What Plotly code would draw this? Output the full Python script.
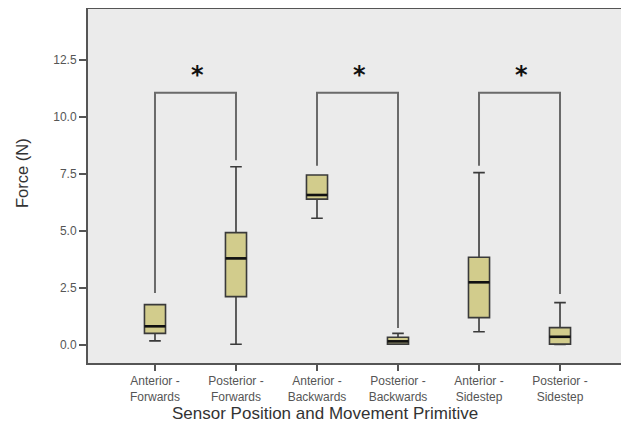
import plotly.graph_objects as go

categories = ["Anterior -<br>Forwards", "Posterior -<br>Forwards", "Anterior -<br>Backwards",
              "Posterior -<br>Backwards", "Anterior -<br>Sidestep", "Posterior -<br>Sidestep"]
lower_whisker = [0.18, 0.03, 5.56, 0.04, 0.58, 0.02]
q1 = [0.51, 2.12, 6.40, 0.04, 1.20, 0.04]
median = [0.82, 3.80, 6.58, 0.16, 2.75, 0.36]
q3 = [1.77, 4.93, 7.46, 0.34, 3.85, 0.76]
upper_whisker = [1.77, 7.82, 7.46, 0.51, 7.56, 1.86]

bracket_pairs = [(0, 1), (2, 3), (4, 5)]
bracket_left_start = [2.28, 7.86, 7.86]
bracket_right_start = [8.10, 0.75, 2.24]
bracket_top = [11.07, 11.07, 11.07]
star_y = [11.85, 11.85, 11.85]

y_ticks = [0, 2.5, 5.0, 7.5, 10.0, 12.5]

BOX_W = 0.26
xpos = list(range(len(categories)))

# page has an 8px body margin; size the figure so it fits the 629x423 window
W, H = 621, 415
ML, MR, MT, MB = 80, 2, 1, 60
PW = W - ML - MR
PH = H - MT - MB

fig = go.Figure()

fig.add_trace(go.Box(
    x=xpos,
    q1=q1, median=median, q3=q3,
    lowerfence=lower_whisker, upperfence=upper_whisker,
    fillcolor="#D2CC8C",
    line=dict(color="#3a3a3a", width=1.6),
    width=BOX_W,
    whiskerwidth=0.55,
    boxpoints=False,
    showlegend=False,
    hoverinfo="skip",
))

mx, my = [], []
for i, m in enumerate(median):
    mx += [i - BOX_W / 2, i + BOX_W / 2, None]
    my += [m, m, None]
fig.add_trace(go.Scatter(x=mx, y=my, mode="lines", line=dict(color="#111111", width=2.6),
                         showlegend=False, hoverinfo="skip"))

for k, (a, b) in enumerate(bracket_pairs):
    fig.add_trace(go.Scatter(
        x=[a, a, b, b],
        y=[bracket_left_start[k], bracket_top[k], bracket_top[k], bracket_right_start[k]],
        mode="lines",
        line=dict(color="#6a6a6a", width=2),
        showlegend=False,
        hoverinfo="skip",
    ))
    fig.add_annotation(
        x=(a + b) / 2 + 0.02, y=star_y[k], text="<b>*</b>", showarrow=False,
        font=dict(size=24, color="#111111", family="DejaVu Sans"), yanchor="middle",
    )

fig.add_annotation(xref="paper", x=(317 - ML) / PW, xanchor="center",
                   yref="paper", y=0, yanchor="middle", yshift=-50,
                   text="Sensor Position and Movement Primitive",
                   showarrow=False, font=dict(size=17, color="#333333"))
fig.add_annotation(xref="paper", x=0, xanchor="center", xshift=-66,
                   yref="paper", y=(PH + MT - 165) / PH, yanchor="middle",
                   text="Force (N)", textangle=-90, showarrow=False,
                   font=dict(size=16.5, color="#333333"))

fig.update_layout(
    width=W, height=H,
    margin=dict(l=ML, r=MR, t=MT, b=MB),
    paper_bgcolor="white",
    plot_bgcolor="#EBEBEB",
    font=dict(family="Liberation Sans, Arial, sans-serif", color="#444444"),
)

fig.update_xaxes(
    automargin=False,
    tickmode="array", tickvals=xpos, ticktext=categories,
    range=[-0.827, 5.827],
    showgrid=False, zeroline=False,
    showline=True, linecolor="#555555", linewidth=2, mirror=True,
    ticks="outside", ticklen=6, tickwidth=2, tickcolor="#555555",
    tickfont=dict(size=12, color="#555555"),
)

fig.update_yaxes(
    automargin=False,
    range=[-0.79, 14.74],
    tickmode="array", tickvals=y_ticks, ticktext=[f"{v:.1f}" for v in y_ticks],
    showgrid=False, zeroline=False,
    showline=True, linecolor="#555555", linewidth=2, mirror=True,
    ticks="outside", ticklen=7, tickwidth=2, tickcolor="#555555",
    tickfont=dict(size=12, color="#555555"),
)

fig.write_html("out.html")
